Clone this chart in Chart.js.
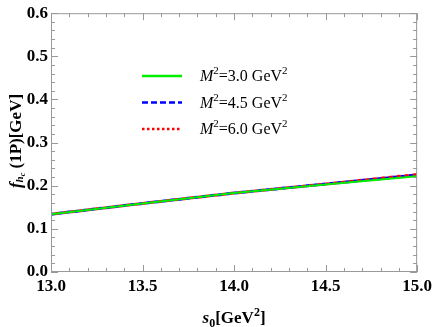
<!DOCTYPE html>
<html>
<head>
<meta charset="utf-8">
<script src="https://cdn.jsdelivr.net/npm/chart.js@4.4.0/dist/chart.umd.min.js"></script>
<style>
  html, body { margin: 0; padding: 0; background: #fff; }
  #wrap { width: 436px; height: 327px; }
</style>
</head>
<body>
<div id="wrap"><canvas id="fChart" width="436" height="327"></canvas></div>
<script>
// s0 values [GeV^2]
const s0 = [13.0, 13.5, 14.0, 14.5, 15.0];
// decay constant for each Borel mass
const fM3 = [0.134, 0.159, 0.183, 0.203, 0.222];
const fM45 = [0.134, 0.159, 0.183, 0.204, 0.225];
const fM6 = [0.134, 0.159, 0.183, 0.204, 0.226];
const legendLabels = ['3.0', '4.5', '6.0'];

const serif = '"Liberation Serif", "Times New Roman", serif';
const frameColor = '#999999';

function pts(ys) {
    return s0.map((x, i) => ({ x: x, y: ys[i] }));
}

// ticks, frame, titles and legend
const decor = {
    id: 'decor',
    afterDraw(chart) {
        const c = chart.ctx;
        const xs = chart.scales.x, ys = chart.scales.y;
        const a = chart.chartArea;
        c.save();
        c.strokeStyle = frameColor;
        c.lineWidth = 1;
        c.strokeRect(a.left + 0.5, a.top + 0.5, a.right - a.left - 1, a.bottom - a.top - 1);

        // x ticks (bottom and top, inward)
        for (let i = 0; i <= 20; i++) {
            const v = 13 + i * 0.1;
            const px = Math.round(xs.getPixelForValue(v)) + 0.5;
            const len = i % 5 === 0 ? 7 : 4;
            c.beginPath();
            c.moveTo(px, a.bottom); c.lineTo(px, a.bottom - len);
            c.moveTo(px, a.top); c.lineTo(px, a.top + len);
            c.stroke();
        }
        // y ticks (left and right)
        for (let i = 0; i <= 30; i++) {
            const v = i * 0.02;
            const py = Math.round(ys.getPixelForValue(v)) + 0.5;
            const len = i % 5 === 0 ? 7 : 4;
            c.beginPath();
            c.moveTo(a.left, py); c.lineTo(a.left + len, py);
            c.moveTo(a.right, py); c.lineTo(a.right - len, py);
            c.stroke();
        }

        c.fillStyle = '#000';
        c.textBaseline = 'alphabetic';

        // x title: s0[GeV^2]
        let parts = [
            { t: 's', f: 'italic bold 17px ' + serif, dy: 0 },
            { t: '0', f: 'bold 12px ' + serif, dy: 4 },
            { t: '[GeV', f: 'bold 17px ' + serif, dy: 0 },
            { t: '2', f: 'bold 12px ' + serif, dy: -7 },
            { t: ']', f: 'bold 17px ' + serif, dy: 0 }
        ];
        drawParts(c, parts, (a.left + a.right) / 2, 323, true);

        // y title: f_{h_c}(1P)[GeV], rotated
        c.save();
        c.translate(21, 141);
        c.rotate(-Math.PI / 2);
        parts = [
            { t: 'f', f: 'italic bold 17px ' + serif, dy: 0 },
            { t: 'h', f: 'italic bold 11px ' + serif, dy: 2 },
            { t: 'c', f: 'italic bold 8px ' + serif, dy: 4 },
            { t: ' (1P)[GeV]', f: 'bold 17px ' + serif, dy: 0 }
        ];
        drawParts(c, parts, 0, 0, true);
        c.restore();

        // legend
        const rows = [
            { color: '#00ee00', dash: [] },
            { color: '#0000ff', dash: [6, 3] },
            { color: '#ff0000', dash: [2.5, 2.5] }
        ];
        rows.forEach((r, i) => {
            const y = 76 + i * 26.5;
            c.save();
            c.strokeStyle = r.color;
            c.lineWidth = 2.5;
            c.setLineDash(r.dash);
            c.beginPath();
            c.moveTo(142, y); c.lineTo(182, y);
            c.stroke();
            c.restore();
            const lp = [
                { t: 'M', f: 'italic 16px ' + serif, dy: 0 },
                { t: '2', f: '11px ' + serif, dy: -7 },
                { t: '=' + legendLabels[i] + ' GeV', f: '16px ' + serif, dy: 0 },
                { t: '2', f: '11px ' + serif, dy: -7 }
            ];
            drawParts(c, lp, 200, y + 5, false);
        });
        c.restore();
    }
};

function drawParts(c, parts, x, y, centered) {
    let w = 0;
    parts.forEach(p => { c.font = p.f; w += c.measureText(p.t).width; });
    let cx = centered ? x - w / 2 : x;
    c.textAlign = 'left';
    parts.forEach(p => {
        c.font = p.f;
        c.fillText(p.t, cx, y + p.dy);
        cx += c.measureText(p.t).width;
    });
}

const ctx = document.getElementById('fChart').getContext('2d');
new Chart(ctx, {
    type: 'line',
    data: {
        datasets: [
            { label: 'M2=3.0', data: pts(fM3), borderColor: '#00ee00', borderWidth: 2, pointRadius: 0, fill: false, tension: 0 },
            { label: 'M2=4.5', data: pts(fM45), borderColor: '#0000ff', borderWidth: 3, borderDash: [4, 4], pointRadius: 0, fill: false, tension: 0 },
            { label: 'M2=6.0', data: pts(fM6), borderColor: '#ff0000', borderWidth: 3, borderDash: [4, 4], borderDashOffset: 4, pointRadius: 0, fill: false, tension: 0 }
        ]
    },
    options: {
        responsive: false,
        animation: false,
        layout: { padding: { top: 11, right: 14, left: 0, bottom: 0 } },
        plugins: { legend: { display: false }, tooltip: { enabled: false } },
        scales: {
            x: {
                type: 'linear', min: 13, max: 15,
                grid: { display: false, drawTicks: false },
                border: { display: false },
                afterFit: s => { s.height = 55; },
                ticks: {
                    stepSize: 0.5, padding: 4, color: '#000',
                    font: { family: serif, size: 17, weight: 'bold' },
                    callback: v => v.toFixed(1)
                }
            },
            y: {
                min: 0, max: 0.6,
                grid: { display: false, drawTicks: false },
                border: { display: false },
                afterFit: s => { s.width = 51; },
                ticks: {
                    stepSize: 0.1, padding: 3, color: '#000',
                    font: { family: serif, size: 17, weight: 'bold' },
                    callback: v => v.toFixed(1)
                }
            }
        }
    },
    plugins: [decor]
});
</script>
</body>
</html>
